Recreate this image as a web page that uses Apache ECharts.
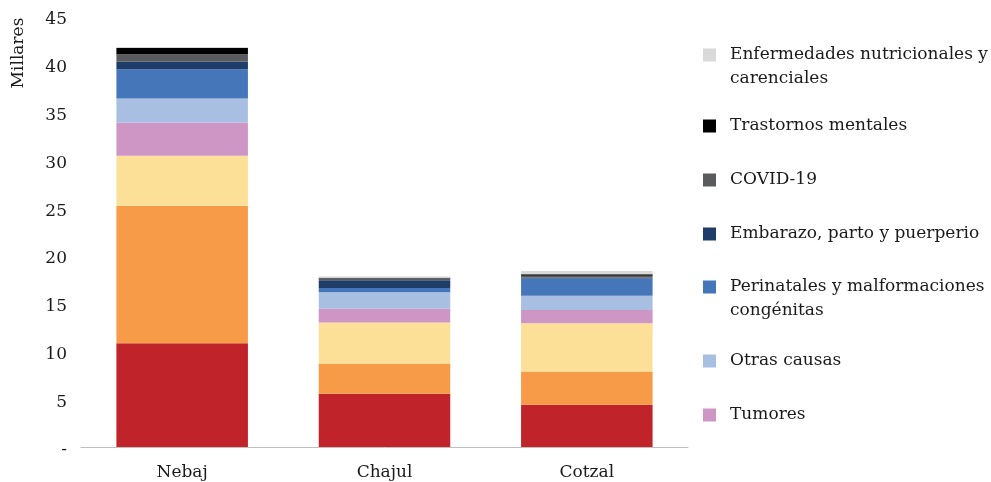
<!DOCTYPE html>
<html>
<head>
<meta charset="utf-8">
<script src="https://cdn.jsdelivr.net/npm/echarts@6/dist/echarts.min.js"></script>
<style>
  html, body { margin: 0; padding: 0; background: #fff; }
  #chart { width: 991px; height: 482px; }
</style>
</head>
<body>
<div id="chart"></div>
<script>
// Municipios
const categories = ['Nebaj', 'Chajul', 'Cotzal'];

// Causas de muerte (miles), de abajo hacia arriba en cada barra
const infecciosas       = [10.87, 5.57, 4.42];
const noTransmisibles   = [14.38, 3.17, 3.48];
const causasExternas    = [5.22, 4.28, 5.06];
const tumores           = [3.49, 1.46, 1.39];
const otrasCausas       = [2.51, 1.72, 1.49];
const perinatales       = [3.06, 0.45, 1.80];
const embarazo          = [0.80, 0.80, 0.10];
const covid19           = [0.76, 0.21, 0.18];
const trastornosMent    = [0.66, 0.05, 0.15];
const nutricionales     = [0.12, 0.14, 0.35];

const yTicks = [0, 5, 10, 15, 20, 25, 30, 35, 40, 45];

const seriesDefs = [
  { name: 'Enfermedades infecciosas', data: infecciosas, color: '#C0232A' },
  { name: 'Enfermedades no transmisibles', data: noTransmisibles, color: '#F79B48' },
  { name: 'Causas externas', data: causasExternas, color: '#FDE097' },
  { name: 'Tumores', data: tumores, color: '#CE96C4' },
  { name: 'Otras causas', data: otrasCausas, color: '#A8BFE1' },
  { name: 'Perinatales y malformaciones congénitas', data: perinatales, color: '#4676BA' },
  { name: 'Embarazo, parto y puerperio', data: embarazo, color: '#1E3D69' },
  { name: 'COVID-19', data: covid19, color: '#5A5B5D' },
  { name: 'Trastornos mentales', data: trastornosMent, color: '#000000' },
  { name: 'Enfermedades nutricionales y carenciales', data: nutricionales, color: '#D9D9D9' }
];

const FONT = 'DejaVu Serif';
const TEXT = '#1a1a1a';

// Legend entries: name, label text, centre of first text line
const legendEntries = [
  { name: 'Enfermedades nutricionales y carenciales', label: 'Enfermedades nutricionales y\ncarenciales', y: 55 },
  { name: 'Trastornos mentales', label: 'Trastornos mentales', y: 126 },
  { name: 'COVID-19', label: 'COVID-19', y: 180 },
  { name: 'Embarazo, parto y puerperio', label: 'Embarazo, parto y puerperio', y: 234 },
  { name: 'Perinatales y malformaciones congénitas', label: 'Perinatales y malformaciones\ncongénitas', y: 287 },
  { name: 'Otras causas', label: 'Otras causas', y: 361 },
  { name: 'Tumores', label: 'Tumores', y: 415 }
];

// Square icon pinned to the top of a taller box so it lines up with the first line
const TOP_SQUARE = 'path://M0,0h13v13h-13z M0,36.9h0.05v0.05h-0.05z';

const legends = legendEntries.map(function (e) {
  const twoLine = e.label.indexOf('\n') >= 0;
  return {
    show: true,
    orient: 'vertical',
    left: 703,
    top: e.y - 12,
    padding: 0,
    itemWidth: 13,
    itemHeight: twoLine ? 37 : 13,
    icon: twoLine ? TOP_SQUARE : 'rect',
    selectedMode: false,
    data: [e.name],
    formatter: function () { return e.label; },
    textStyle: {
      fontFamily: FONT,
      fontSize: 17,
      color: TEXT,
      lineHeight: 24,
      padding: [0, 0, 0, 9]
    }
  };
});

const chart = echarts.init(document.getElementById('chart'), null, { renderer: 'canvas' });

chart.setOption({
  animation: false,
  backgroundColor: '#ffffff',
  grid: { left: 81, right: 303, top: 17, bottom: 35, containLabel: false },
  legend: legends,
  xAxis: {
    type: 'category',
    data: categories,
    axisLine: { show: true, lineStyle: { color: '#BFBFBF', width: 1 } },
    axisTick: { show: false },
    axisLabel: { fontFamily: FONT, fontSize: 17, color: TEXT, margin: 17 }
  },
  yAxis: {
    type: 'value',
    min: yTicks[0],
    max: yTicks[yTicks.length - 1],
    interval: 5,
    axisLine: { show: false },
    axisTick: { show: false },
    splitLine: { show: false },
    axisLabel: {
      fontFamily: FONT,
      fontSize: 17,
      color: TEXT,
      margin: 14,
      formatter: function (v) { return '{v|' + (v === 0 ? '-' : String(v)) + '}'; },
      rich: {
        v: { fontFamily: FONT, fontSize: 17, color: TEXT, padding: [6, 0, 0, 0] }
      }
    }
  },
  graphic: [{
    type: 'text',
    x: 19,
    y: 53,
    rotation: Math.PI / 2,
    style: {
      text: 'Millares',
      fontFamily: FONT,
      fontSize: 17,
      fill: TEXT,
      align: 'center',
      verticalAlign: 'middle'
    }
  }],
  series: seriesDefs.map(function (s) {
    return {
      name: s.name,
      type: 'bar',
      stack: 'total',
      barCategoryGap: '35%',
      data: s.data,
      itemStyle: { color: s.color },
      emphasis: { disabled: true }
    };
  })
});
</script>
</body>
</html>
